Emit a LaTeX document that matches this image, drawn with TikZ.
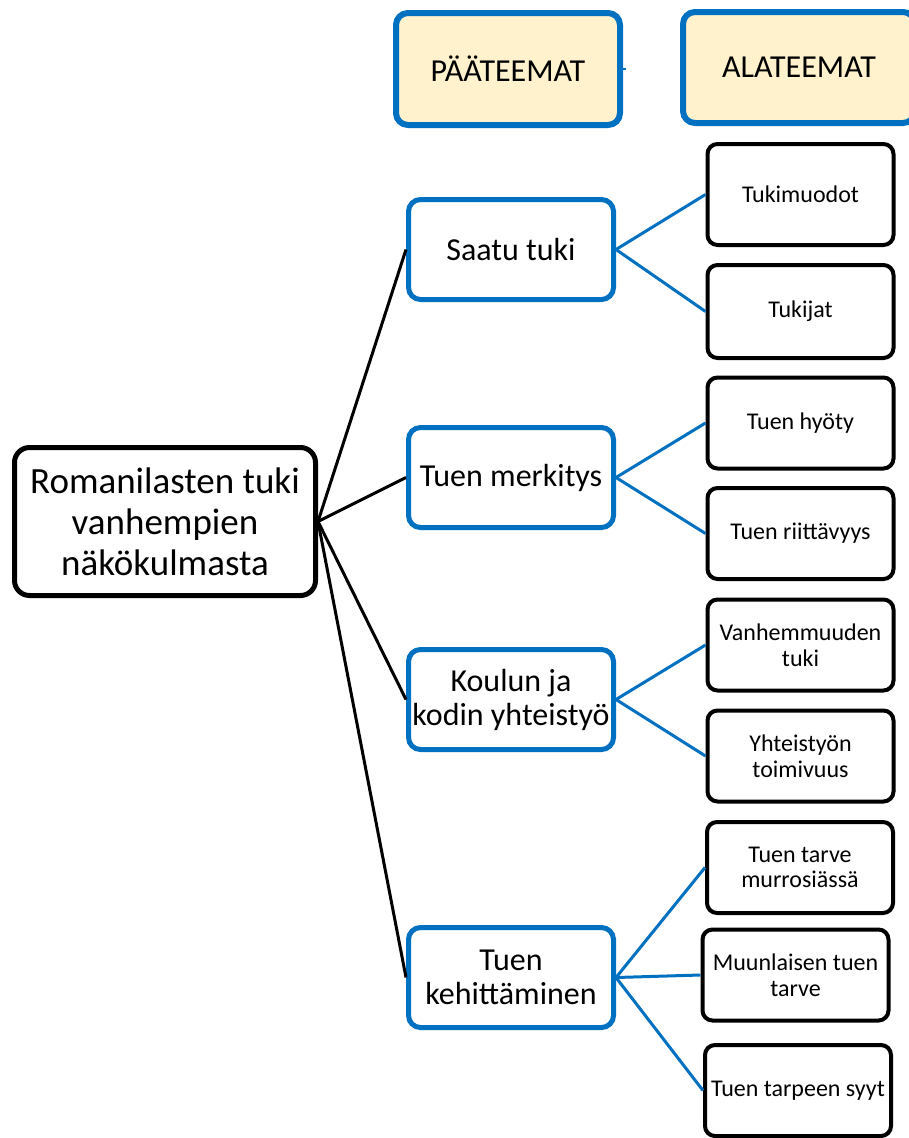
\documentclass[tikz,border=0pt]{standalone}
\usepackage{fontspec}
\setmainfont{Carlito}
\definecolor{tblue}{HTML}{0070C0}
\definecolor{tyellow}{HTML}{FFF2CC}
\tikzset{
  headbox/.style={draw=tblue, line width=6pt, fill=tyellow, rounded corners=12pt, inner sep=0pt, align=center, font=\fontsize{32}{38}\selectfont},
  rootbox/.style={draw=black, line width=5pt, fill=white, rounded corners=15pt, inner sep=0pt, align=center, font=\fontsize{37}{41}\selectfont, minimum width=301pt, minimum height=148pt},
  mainbox/.style={draw=tblue, line width=5pt, fill=white, rounded corners=12pt, inner sep=0pt, align=center, font=\fontsize{32}{34}\selectfont, minimum width=205pt, minimum height=100pt},
  subbox/.style={draw=black, line width=4pt, fill=white, rounded corners=10pt, inner sep=0pt, align=center, font=\fontsize{24}{25.5}\selectfont, minimum width=186pt, minimum height=91pt},
  blackline/.style={draw=black, line width=3pt},
  blueline/.style={draw=tblue, line width=3pt},
}
\begin{document}
\begin{tikzpicture}[x=1pt,y=-1pt]
\useasboundingbox (0,0) rectangle (909,1138);
% headers
\node[headbox, minimum width=224pt, minimum height=112pt] (pt) at (508,69) {PÄÄTEEMAT};
\node[headbox, minimum width=232pt, minimum height=111pt] (at) at (799,67.5) {ALATEEMAT};
\coordinate (ptx) at ([xshift=3pt]pt.east);
\draw[blueline, line width=2pt] (pt.east) -- (ptx);
% root
\node[rootbox] (root) at (165,521.5) {Romanilasten tuki\\vanhempien\\näkökulmasta};
% main themes
\node[mainbox] (m1) at (511,249.5) {Saatu tuki};
\node[mainbox] (m2) at (511,477.5) {Tuen merkitys};
\node[mainbox] (m3) at (511,699.5) {Koulun ja\\kodin yhteistyö};
\node[mainbox] (m4) at (511,977.5) {Tuen\\kehittäminen};
% sub themes
\node[subbox, minimum height=101pt] (s1) at (800.5,194.5) {Tukimuodot};
\node[subbox, minimum height=93pt] (s2) at (800.5,311.5) {Tukijat};
\node[subbox] (s3) at (800.5,423) {Tuen hyöty};
\node[subbox] (s4) at (800.5,533.5) {Tuen riittävyys};
\node[subbox] (s5) at (800.5,645) {Vanhemmuuden\\tuki};
\node[subbox] (s6) at (800.5,756) {Yhteistyön\\toimivuus};
\node[subbox] (s7) at (800,867.5) {Tuen tarve\\murrosiässä};
\node[subbox] (s8) at (795.5,975) {Muunlaisen tuen\\tarve};
\node[subbox] (s9) at (798,1090.5) {Tuen tarpeen syyt};
% connectors root -> main
\draw[blackline] (root.east) -- (m1.west);
\draw[blackline] (root.east) -- (m2.west);
\draw[blackline] (root.east) -- (m3.west);
\draw[blackline] (root.east) -- (m4.west);
% connectors main -> sub
\draw[blueline] (m1.east) -- (s1.west);
\draw[blueline] (m1.east) -- (s2.west);
\draw[blueline] (m2.east) -- (s3.west);
\draw[blueline] (m2.east) -- (s4.west);
\draw[blueline] (m3.east) -- (s5.west);
\draw[blueline] (m3.east) -- (s6.west);
\draw[blueline] (m4.east) -- (s7.west);
\draw[blueline] (m4.east) -- (s8.west);
\draw[blueline] (m4.east) -- (s9.west);
\end{tikzpicture}
\end{document}
